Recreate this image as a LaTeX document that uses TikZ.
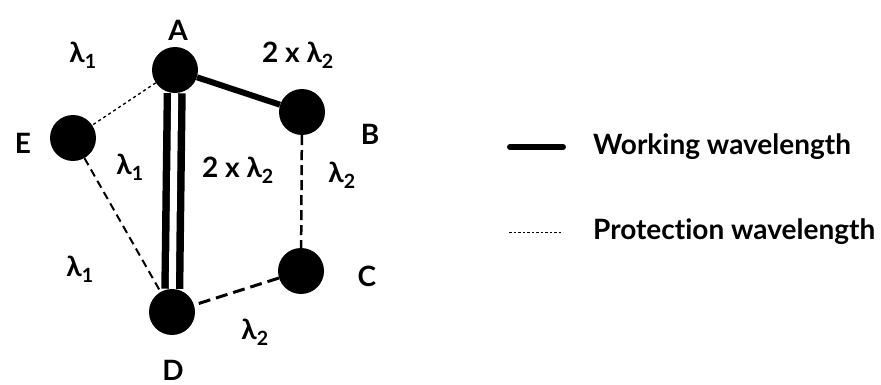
\documentclass[tikz,border=0pt]{standalone}
\usepackage{fontspec}
\setmainfont{Lato}[Ligatures={NoCommon}]
\usetikzlibrary{arrows.meta}

\begin{document}
\begin{tikzpicture}[x=1pt,y=-1pt,
    station/.style={circle,fill=black,minimum size=46pt,inner sep=0pt},
    lbl/.style={font=\fontsize{28}{32}\selectfont\bfseries,inner sep=0pt},
    working/.style={line width=6pt},
    protect/.style={line width=1.3pt,dash pattern=on 3pt off 3pt}]
  \useasboundingbox (0,0) rectangle (881,385);
  % stations
  \node[station] (a) at (175,70) {}; \node[lbl] at (178,30) {A};
  \node[station] (b) at (302,112) {}; \node[lbl] at (370,134) {B};
  \node[station] (c) at (301,271) {}; \node[lbl] at (367,276) {C};
  \node[station] (d) at (172,312) {}; \node[lbl] at (173,370) {D};
  \node[station] (e) at (73,138) {}; \node[lbl] at (23,143) {E};
  % links
  \draw[working] (a) -- (b);
  \draw[line width=7.5pt,double=white,double distance=7pt] (a) -- (d);
  \draw[protect] (a) -- (e);
  \draw[line width=2pt,dash pattern=on 8pt off 5pt] (e) -- (d);
  \draw[line width=2.5pt,dash pattern=on 10pt off 5pt] (b) -- (c);
  \draw[line width=3pt,dash pattern=on 12pt off 6pt] (c) -- (d);
  % wavelengths
  \node[lbl] at (83,55) {λ\textsubscript{1}};
  \node[lbl] at (298,55) {2 x λ\textsubscript{2}};
  \node[lbl] at (130,167) {λ\textsubscript{1}};
  \node[lbl] at (238,170) {2 x λ\textsubscript{2}};
  \node[lbl] at (342,175) {λ\textsubscript{2}};
  \node[lbl] at (80,269) {λ\textsubscript{1}};
  \node[lbl] at (255,332) {λ\textsubscript{2}};
  % legend
  \coordinate (w1) at (510,147); \coordinate (w2) at (563,147);
  \draw[working,line cap=round] (w1) -- (w2);
  \node[lbl,anchor=west] (wtxt) at (593,147) {Working wavelength};
  \coordinate (p1) at (509,232); \coordinate (p2) at (563,232);
  \draw[line width=1pt,dash pattern=on 2.5pt off 2pt] (p1) -- (p2);
  \node[lbl,anchor=west] (ptxt) at (593,232) {Protection wavelength};
\end{tikzpicture}
\end{document}
